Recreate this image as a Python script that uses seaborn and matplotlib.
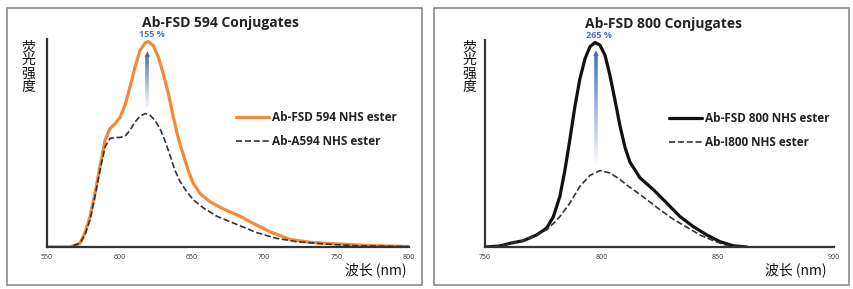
import numpy as np
import pandas as pd
import matplotlib
matplotlib.use('Agg')
import matplotlib.pyplot as plt
import seaborn as sns
from matplotlib.patches import Rectangle
from matplotlib.collections import LineCollection

sns.set_style('white')
plt.rcParams['font.family'] = ['Open Sans', 'DejaVu Sans']

# ---- data (intensity normalised to each FSD peak) ----
wl_fsd594 = [550, 565.9, 572.8, 576.2, 579.7, 583.1, 586.6, 590.1, 593.5, 597, 600.4, 603.9,
             607.3, 610.8, 614.2, 617.7, 620, 623.4, 626.9, 630.3, 633.8, 637.2, 640.7, 644.1,
             647.6, 651, 655.7, 662.6, 671.8, 683.3, 690.2, 704, 717.8, 731.6, 750, 773, 800]
fsd_594 = [0, 0.0, 0.018, 0.068, 0.147, 0.26, 0.39, 0.52, 0.576, 0.60, 0.63, 0.69,
           0.778, 0.875, 0.956, 0.992, 1.0, 0.98, 0.924, 0.843, 0.746, 0.633, 0.528, 0.45,
           0.37, 0.31, 0.26, 0.22, 0.185, 0.15, 0.123, 0.074, 0.037, 0.023, 0.015, 0.007, 0.002]

wl_a594 = [550, 565.9, 572.8, 576.2, 579.7, 583.1, 586.6, 590.1, 593.5, 597, 600.4, 603.9,
           607.3, 610.8, 614.2, 617.7, 621.1, 624.5, 628, 631.4, 634.9, 638.3, 641.8, 646.4,
           651, 658, 667.2, 681, 694.8, 708.6, 722.4, 740.8, 763.9, 800]
a594 = [0, 0.0, 0.018, 0.06, 0.131, 0.244, 0.374, 0.487, 0.528, 0.533, 0.533, 0.539,
        0.568, 0.608, 0.636, 0.649, 0.641, 0.617, 0.576, 0.519, 0.447, 0.374, 0.32, 0.27,
        0.23, 0.19, 0.15, 0.11, 0.07, 0.042, 0.026, 0.015, 0.006, 0.002]

wl_fsd800 = [750, 756.4, 760.7, 766.5, 772.2, 776.5, 779.4, 782.2, 784.4, 786.5, 788.7, 790.8,
             793, 795.1, 797.3, 799.4, 801.6, 803.7, 805.9, 808, 810.2, 812.3, 816.6, 822.3,
             828.1, 833.8, 839.5, 845.3, 851, 856.7, 862.5]
fsd_800 = [0, 0.005, 0.018, 0.031, 0.059, 0.092, 0.149, 0.248, 0.379, 0.527, 0.691, 0.823,
           0.921, 0.979, 1.0, 0.987, 0.937, 0.839, 0.716, 0.593, 0.486, 0.415, 0.338, 0.281,
           0.215, 0.149, 0.1, 0.059, 0.026, 0.006, 0.0]

wl_i800 = [750, 756.4, 760.7, 766.5, 772.2, 776.5, 779.4, 782.2, 786.5, 790.8, 795.1, 799.4,
           803.7, 808, 811.6, 813.7, 819.5, 825.2, 830.9, 836.7, 842.4, 848.1, 852.4, 856.7, 860]
i800 = [0, 0.005, 0.018, 0.031, 0.059, 0.084, 0.115, 0.149, 0.215, 0.297, 0.35, 0.374,
        0.362, 0.33, 0.297, 0.281, 0.232, 0.182, 0.136, 0.097, 0.059, 0.031, 0.013, 0.003, 0.0]

ticks_594 = [550, 600, 650, 700, 750, 800]
ticks_800 = [750, 800, 850, 900]

cjk = ['Noto Sans CJK SC', 'DejaVu Sans']

fig = plt.figure(figsize=(8.54, 2.89), dpi=100)

# grey frame around each panel
for x0, x1 in [(7, 422), (434, 849)]:
    fig.patches.append(Rectangle((x0 / 854, 1 - 285 / 289), (x1 - x0) / 854, 277 / 289,
                                 transform=fig.transFigure, fill=False,
                                 edgecolor='#8a8a8a', linewidth=1.2))


def panel(left, right, ytop_px, xr, ticks, title, title_x, pct, pct_x, arrow_x, arrow_y0,
          arrow_y1, curves, leg_x, ylab_x, xlab_x):
    ax = fig.add_axes([left / 854, (289 - 247) / 289, (right - left) / 854, (247 - ytop_px) / 289])
    for x, y, lab, col, lw, ls in curves:
        df = pd.DataFrame({'wl': x, 'v': y})
        sns.lineplot(data=df, x='wl', y='v', ax=ax, color=col, linewidth=lw,
                     linestyle=ls, label=lab, solid_joinstyle='round')
    ax.set_xlim(*xr)
    ax.set_ylim(0, 1.012)
    ax.set_xticks(ticks)
    ax.set_xticklabels([str(t) for t in ticks], fontsize=5, color='#333333')
    ax.set_yticks([])
    ax.tick_params(axis='x', direction='in', length=2, width=1, pad=5, color='#444444')
    ax.set_xlabel('')
    ax.set_ylabel('')
    sns.despine(ax=ax)
    for s in ['left', 'bottom']:
        ax.spines[s].set_color('#333333')
        ax.spines[s].set_linewidth(1.6)
    ax.set_title(title, fontsize=10, fontweight='bold', color='#222222', pad=8.5, x=title_x)
    ax.text(pct_x, 1.035, pct, ha='center', va='center', fontsize=6.5, fontweight='bold',
            color='#4a72b8', clip_on=False)
    # gradient arrow shaft
    ys = np.linspace(arrow_y0, arrow_y1 - 0.03, 40)
    segs = [[(arrow_x, ys[i]), (arrow_x, ys[i + 1])] for i in range(len(ys) - 1)]
    cols = [(0.29, 0.45, 0.72, a) for a in np.linspace(0.05, 1, len(segs))]
    ax.add_collection(LineCollection(segs, colors=cols, linewidths=2.6))
    ax.annotate('', xy=(arrow_x, arrow_y1), xytext=(arrow_x, arrow_y1 - 0.05),
                arrowprops=dict(arrowstyle='-|>', color='#3f63a8', lw=0.1,
                                mutation_scale=9))
    leg = ax.legend(loc='upper left', bbox_to_anchor=(leg_x, 0.68), frameon=False,
                    handlelength=2.8, handletextpad=0.3, labelspacing=0.9,
                    borderpad=0, prop={'weight': 'bold', 'size': 8.5})
    for t in leg.get_texts():
        t.set_color('#222222')
    fig.text(ylab_x / 854, 1 - 40 / 289, '荧\n光\n强\n度', ha='center', va='top',
             fontsize=10, linespacing=0.95, family=cjk, color='#111111')
    fig.text(xlab_x / 854, 1 - 270 / 289, '波长 (nm)', ha='right', va='center',
             fontsize=10, family=cjk, color='#111111')
    return ax


panel(47, 409, 39, (550, 800), ticks_594, 'Ab-FSD 594 Conjugates', 0.478, '155 %', 622.3,
      619.3, 0.68, 0.965,
      [(wl_fsd594, fsd_594, 'Ab-FSD 594 NHS ester', '#f08a3c', 2.3, '-'),
       (wl_a594, a594, 'Ab-A594 NHS ester', '#333333', 1.2, '--')],
      0.505, 28, 407)

panel(485, 834, 40, (750, 900), ticks_800, 'Ab-FSD 800 Conjugates', 0.512, '265 %', 798.9,
      797.7, 0.41, 0.974,
      [(wl_fsd800, fsd_800, 'Ab-FSD 800 NHS ester', '#111111', 2.3, '-'),
       (wl_i800, i800, 'Ab-I800 NHS ester', '#333333', 1.2, '--')],
      0.51, 469, 827)

fig.savefig('out.png', dpi=100)
